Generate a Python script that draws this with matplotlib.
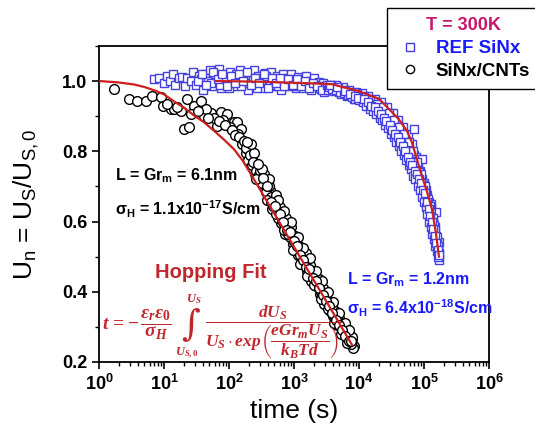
import numpy as np
import matplotlib
matplotlib.use("Agg")
import matplotlib.pyplot as plt
from matplotlib.ticker import LogLocator, FuncFormatter, MultipleLocator, NullFormatter

### FONTS ###
plt.rcParams['font.family'] = ['Liberation Sans', 'DejaVu Sans']
plt.rcParams['mathtext.fontset'] = 'custom'
plt.rcParams['mathtext.it'] = 'Liberation Serif:italic:bold'
plt.rcParams['mathtext.rm'] = 'Liberation Serif:bold'
plt.rcParams['mathtext.bf'] = 'Liberation Serif:italic:bold'

### DATA ###

# REF SiNx (squares)
ref_t = [7, 8.5, 10, 11, 12.5, 14, 15, 17, 19, 21, 23, 26, 28, 31, 34, 37, 40, 43, 47, 51,
         55, 60, 65, 70, 75, 81, 88, 95, 102, 110, 118, 127, 137, 147, 158, 170, 183, 197,
         212, 228, 245, 263, 283, 305, 328, 353, 380, 408, 440, 473, 509, 548, 590, 635,
         683, 735, 790, 850, 915, 985, 1060, 1140, 1230, 1320, 1420, 1530, 1650, 1780,
         1910, 2060, 2220, 2390, 2570, 2770, 2980,
         53, 62, 73, 86, 99, 114, 132, 152, 176, 204, 236, 273, 316, 366, 424, 491, 568,
         658, 762, 882, 1020, 1180, 1370, 1590, 1840, 2130, 2470, 2860,
         33, 39, 45, 57, 68, 78, 92, 106, 123, 142, 164, 190, 220, 254, 294, 340, 395, 457,
         529, 612, 709, 820, 950, 1100, 1275, 1475, 1710, 1980, 2300, 2660,
         3200, 3500, 4000, 4500, 5000, 5600, 6300, 7000, 7900, 8900, 10000, 11200, 12500,
         14000, 15800, 17700, 19800, 22000, 24500, 27000, 30000, 33000, 36500, 40000, 44000,
         48000, 52000, 57000, 62000, 66000, 70000, 71000, 76000, 81000, 87000, 93000, 94000,
         100000, 106000, 112000, 119000, 126000, 128000, 133000, 140000, 146000, 152000,
         153000, 160000, 166000, 168000, 170000, 171000,
         3300, 3700, 4200, 4800, 5300, 5900, 6600, 7400, 8300, 9400, 10600, 11800, 13200,
         14800, 16700, 18700, 20900, 23200, 25800, 28500, 31500, 34800, 38200, 42000, 46000,
         50000, 54500, 59500, 64000, 68000, 73500, 78500, 84000, 90000, 97000, 103000,
         109000, 116000, 123000, 130000, 136000, 143000, 149000, 156000, 163000,
         3400, 3900, 4400, 5100, 5800, 6700, 7700, 8800, 10100, 11500, 13000, 14700, 16500,
         18500, 20700, 23000, 25500, 28000, 31000, 34000, 37500, 41000, 45000, 49000, 53500,
         58000, 63000, 68000, 74000, 80000, 86000, 92000, 99000, 106000, 113000, 120000,
         127000, 135000, 142000, 150000, 158000, 165000,
         3600, 4600, 6000, 7200, 8600, 9800, 12000, 13800, 15500, 17500, 19500, 21500, 24000,
         26500, 29500, 32500, 36000, 39500, 43000, 47000, 51000, 56000, 61000, 66500, 72000,
         77000, 83000, 89000, 95000, 102000, 110000, 118000, 125000, 132000, 139000, 147000,
         155000, 162000, 169000]
ref_u = [1.005, 1.01, 0.995, 1.015, 1.0, 1.02, 0.99, 1.008, 1.012, 0.985, 1.01, 1.0, 1.025,
         0.99, 1.015, 1.005, 0.975, 1.02, 1.0, 1.03, 0.985, 1.012, 1.0, 1.035, 0.98, 1.018,
         1.005, 0.992, 1.025, 1.01, 0.985, 1.02, 1.0, 1.03, 0.99, 1.012, 1.0, 0.975, 1.02,
         1.005, 1.03, 0.99, 1.015, 1.0, 0.98, 1.022, 1.008, 0.99, 1.025, 1.0, 0.985, 1.015,
         1.0, 0.975, 1.02, 0.995, 1.01, 0.985, 1.02, 1.0, 0.98, 1.012, 0.995, 1.005, 0.985,
         1.015, 0.99, 1.0, 0.98, 1.008, 0.99, 0.998, 0.978, 0.995, 0.985,
         0.995, 1.02, 0.99, 1.01, 0.98, 1.0, 1.015, 0.985, 1.005, 0.995, 1.01, 0.98, 1.0,
         1.015, 0.99, 1.005, 0.985, 1.0, 0.99, 1.005, 0.985, 0.995, 0.98, 0.992, 0.975,
         0.99, 0.98, 0.97,
         1.0, 1.02, 0.99, 1.025, 1.005, 1.02, 0.985, 1.015, 0.995, 1.02, 1.0, 1.025, 0.99,
         1.01, 0.995, 1.02, 0.98, 1.01, 0.995, 1.01, 0.985, 1.005, 0.99, 1.005, 0.985, 1.0,
         0.98, 0.995, 0.985, 0.975,
         0.988, 0.975, 0.985, 0.988, 0.97, 0.982, 0.965, 0.975, 0.958, 0.97, 0.955, 0.965,
         0.945, 0.958, 0.935, 0.95, 0.925, 0.94, 0.91, 0.925, 0.895, 0.908, 0.875, 0.888,
         0.86, 0.87, 0.835, 0.848, 0.81, 0.82, 0.863, 0.79, 0.785, 0.76, 0.745, 0.777,
         0.72, 0.71, 0.69, 0.675, 0.655, 0.64, 0.649, 0.62, 0.6, 0.585, 0.626, 0.56, 0.54,
         0.52, 0.51, 0.543, 0.491,
         0.975, 0.99, 0.972, 0.98, 0.962, 0.975, 0.958, 0.968, 0.95, 0.962, 0.945, 0.955,
         0.935, 0.945, 0.925, 0.935, 0.912, 0.925, 0.9, 0.91, 0.88, 0.89, 0.862, 0.87, 0.84,
         0.85, 0.82, 0.825, 0.795, 0.80, 0.77, 0.77, 0.74, 0.735, 0.705, 0.70, 0.68, 0.665,
         0.645, 0.625, 0.61, 0.59, 0.575, 0.555, 0.53,
         0.982, 0.978, 0.975, 0.968, 0.965, 0.96, 0.955, 0.95, 0.945, 0.94, 0.93, 0.92,
         0.915, 0.905, 0.895, 0.89, 0.875, 0.865, 0.85, 0.84, 0.825, 0.815, 0.8, 0.79, 0.775,
         0.76, 0.75, 0.73, 0.72, 0.70, 0.69, 0.67, 0.655, 0.64, 0.62, 0.60, 0.585, 0.565,
         0.55, 0.53, 0.515, 0.50,
         0.99, 0.982, 0.972, 0.963, 0.958, 0.952, 0.95, 0.94, 0.93, 0.925, 0.915, 0.905,
         0.895, 0.885, 0.875, 0.86, 0.85, 0.84, 0.825, 0.815, 0.80, 0.785, 0.77, 0.76, 0.745,
         0.735, 0.72, 0.71, 0.69, 0.68, 0.655, 0.635, 0.615, 0.60, 0.58, 0.56, 0.54, 0.52,
         0.505]

# SiNx/CNTs (circles)
cnt_t = [1.7, 2.9, 3.8, 5.3, 6.5, 9.0, 9.5, 12.8, 14.3, 18.3, 20.3, 22.6, 24.3, 29, 37, 41,
         53, 65, 75, 93, 119, 133, 153, 45, 58, 82, 105, 140,
         11, 16, 26, 33, 48, 70, 88, 110, 125, 145, 160,
         170, 185, 200, 215, 230, 251, 270, 290, 316, 340, 365, 398, 430, 465, 501, 540,
         585, 631, 680, 735, 794, 860, 925, 1000, 1080, 1160, 1259, 1350, 1460, 1585, 1700,
         1850, 1995, 2150, 2320, 2512, 2700, 2920, 3162, 3400, 3680, 3981, 4300, 4650, 5012,
         5400, 5850, 6310, 6800, 7350, 7943, 8300, 8000, 7600,
         180, 195, 210, 225, 240, 260, 280, 300, 325, 350, 375, 410, 445, 480, 520, 560,
         605, 655, 705, 760, 820, 890, 960, 1040, 1120, 1210, 1300, 1410, 1520, 1640, 1770,
         1920, 2070, 2230, 2410, 2600, 2810, 3040, 3280, 3540, 3830, 4130, 4470, 4830, 5220,
         5640, 6100, 6590, 7120, 7700,
         220, 320, 420, 560, 700, 900, 1150, 1400, 1750, 2200, 2700, 3300, 4000, 4900, 6000,
         7000, 260, 380, 520, 700, 950, 1250, 1600, 2000, 2600, 3300, 4200, 5300, 6500,
         190, 235, 275, 330, 390, 450, 510, 600, 670, 780, 870, 990, 1100, 1230, 1380, 1550,
         1720, 1950, 2150, 2450, 2750, 3100, 3500, 3900, 4400, 4950, 5550, 6200, 6900, 7600]
cnt_u = [0.977, 0.95, 0.943, 0.943, 0.957, 0.954, 0.929, 0.92, 0.92, 0.914, 0.863, 0.949,
         0.869, 0.929, 0.943, 0.9, 0.91, 0.871, 0.911, 0.906, 0.883, 0.883, 0.863, 0.92,
         0.895, 0.89, 0.87, 0.85,
         0.935, 0.925, 0.905, 0.915, 0.895, 0.885, 0.875, 0.86, 0.845, 0.84, 0.82,
         0.83, 0.795, 0.80, 0.765, 0.78, 0.735, 0.755, 0.72, 0.73, 0.70, 0.715, 0.665, 0.69,
         0.635, 0.66, 0.625, 0.635, 0.595, 0.615, 0.565, 0.59, 0.555, 0.56, 0.525, 0.545,
         0.505, 0.52, 0.48, 0.50, 0.46, 0.48, 0.43, 0.455, 0.415, 0.43, 0.395, 0.405, 0.365,
         0.39, 0.355, 0.365, 0.33, 0.345, 0.305, 0.325, 0.29, 0.30, 0.27, 0.285, 0.255,
         0.265, 0.245, 0.24, 0.25,
         0.81, 0.775, 0.79, 0.76, 0.795, 0.745, 0.73, 0.745, 0.71, 0.735, 0.685, 0.70, 0.67,
         0.645, 0.675, 0.61, 0.64, 0.605, 0.58, 0.61, 0.565, 0.585, 0.535, 0.56, 0.525, 0.53,
         0.50, 0.475, 0.51, 0.465, 0.475, 0.445, 0.46, 0.42, 0.435, 0.40, 0.41, 0.38, 0.375,
         0.345, 0.36, 0.335, 0.33, 0.315, 0.31, 0.30, 0.28, 0.295, 0.265, 0.27,
         0.82, 0.75, 0.72, 0.66, 0.63, 0.60, 0.555, 0.525, 0.495, 0.46, 0.43, 0.40, 0.37,
         0.34, 0.31, 0.29, 0.72, 0.66, 0.62, 0.575, 0.52, 0.48, 0.445, 0.42, 0.38, 0.35,
         0.31, 0.28, 0.255,
         0.825, 0.77, 0.765, 0.725, 0.70, 0.655, 0.645, 0.62, 0.60, 0.575, 0.57, 0.545,
         0.53, 0.505, 0.49, 0.47, 0.465, 0.44, 0.43, 0.41, 0.39, 0.375, 0.36, 0.34, 0.32,
         0.305, 0.29, 0.275, 0.26, 0.26]

# hopping fits
fit_cnt_t = [1, 2, 3.5, 5, 7.5, 10, 14, 20, 30, 41, 60, 85, 119, 160, 217, 500, 1000, 2000,
             4000, 7800]
fit_cnt_u = [1.0, 0.996, 0.99, 0.983, 0.972, 0.962, 0.943, 0.925, 0.9, 0.883, 0.857, 0.832,
             0.806, 0.775, 0.735, 0.622, 0.528, 0.434, 0.34, 0.249]
fit_ref_t = [63, 300, 1000, 3800, 10000, 20400, 29000, 41000, 55000, 65000, 78000, 93000,
             112000, 133000, 152000, 170000]
fit_ref_u = [1.0, 0.998, 0.995, 0.991, 0.971, 0.949, 0.92, 0.891, 0.857, 0.826, 0.777,
             0.729, 0.683, 0.634, 0.569, 0.5]

### PLOT ###

fig = plt.figure(figsize=(5.35, 4.33), dpi=100)
ax = fig.add_axes([0.185, 0.164, 0.729, 0.730])

blue_edge = '#4440e0'
ln_ref, = ax.plot(ref_t, ref_u, 's', ms=6, mfc='white', mec=blue_edge, mew=1.0,
                  label='REF SiNx', zorder=2)
ln_cnt, = ax.plot(cnt_t, cnt_u, 'o', ms=7, mfc='white', mec='black', mew=1.0,
                  label='SiNx/CNTs', zorder=3)
ax.plot(fit_cnt_t, fit_cnt_u, '-', color='#cc1f1f', lw=1.6, zorder=4)
ax.plot(fit_ref_t, fit_ref_u, '-', color='#cc1f1f', lw=1.6, zorder=4)

ax.set_xscale('log')
ax.set_xlim(1, 1e6)
ax.set_ylim(0.2, 1.1)

ax.xaxis.set_major_locator(LogLocator(base=10, numticks=10))
ax.xaxis.set_minor_locator(LogLocator(base=10, subs=np.arange(2, 10), numticks=20))
ax.xaxis.set_minor_formatter(NullFormatter())
ax.xaxis.set_major_formatter(FuncFormatter(lambda v, p: r'$\mathregular{10^{%d}}$' % round(np.log10(v))))
ax.yaxis.set_major_locator(MultipleLocator(0.2))
ax.yaxis.set_minor_locator(MultipleLocator(0.1))
ax.yaxis.set_major_formatter(FuncFormatter(lambda v, p: '%.1f' % v))

ax.tick_params(which='major', direction='out', length=5, width=1.2, labelsize=13,
               top=False, right=False)
ax.tick_params(which='minor', direction='out', length=3, width=1.0, top=False, right=False)
for lab in ax.get_xticklabels() + ax.get_yticklabels():
    lab.set_fontweight('bold')
for sp in ax.spines.values():
    sp.set_linewidth(1.3)

ax.set_xlabel('time (s)', fontsize=19, labelpad=4)
ax.set_ylabel(r'U$\mathregular{_n}$ = U$\mathregular{_S}$/U$\mathregular{_{S,0}}$',
              fontsize=19, labelpad=15)

# annotations (figure pixel positions)
def px(x, y):
    return (x / 535.0, 1 - y / 433.0)

fig.text(*px(115, 176), r'L = Gr$\mathregular{_m}$ = 6.1nm', fontsize=11.5, fontweight='bold',
         color='black', va='center')
fig.text(*px(115, 209), r'$\mathregular{\sigma_H}$ = 1.1x10$\mathregular{^{-17}}$S/cm',
         fontsize=11.5, fontweight='bold', color='black', va='center')
fig.text(*px(347, 280), r'L = Gr$\mathregular{_m}$ = 1.2nm', fontsize=11.5, fontweight='bold',
         color='#1a1aff', va='center')
fig.text(*px(347, 308), r'$\mathregular{\sigma_H}$ = 6.4x10$\mathregular{^{-18}}$S/cm',
         fontsize=11.5, fontweight='bold', color='#1a1aff', va='center')
fig.text(*px(211, 272), 'Hopping Fit', fontsize=14.5, fontweight='bold', color='#c0272d',
         ha='center', va='center')

# hopping formula, built from pieces
red = '#c0272d'
fig.text(*px(102, 325), r'$t\,=-\,\dfrac{\varepsilon_r\varepsilon_0}{\sigma_H}$',
         fontsize=14, color=red, va='center')
fig.text(*px(181, 324), '\u222b', fontsize=26, color=red, va='center',
         family='DejaVu Serif', style='italic')
fig.text(*px(186, 299), r'$U_S$', fontsize=9, color=red, va='center')
fig.text(*px(175, 353), r'$U_{S,0}$', fontsize=9, color=red, va='center')
fig.text(*px(205, 332),
         r'$\dfrac{dU_S}{U_S\cdot exp\left(\dfrac{eGr_mU_S}{k_BTd}\right)}$',
         fontsize=12.5, color=red, va='center')

# legend
leg = ax.legend(handles=[ln_ref, ln_cnt], title='T = 300K', loc='upper left',
                bbox_to_anchor=(387 / 535.0, 1 - 8 / 433.0), bbox_transform=fig.transFigure,
                borderaxespad=0, fancybox=False, edgecolor='black', framealpha=1,
                fontsize=13.5, title_fontsize=13, handletextpad=0.6, borderpad=0.5,
                labelspacing=0.3, handlelength=1.5, markerscale=0.85)
leg.get_frame().set_linewidth(1.0)
leg.get_title().set_color('#c8156e')
leg.get_title().set_fontweight('bold')
leg.get_texts()[0].set_color('#1a1aff')
leg.get_texts()[1].set_color('black')
for t in leg.get_texts():
    t.set_fontweight('bold')

fig.savefig('out.png', dpi=100)
